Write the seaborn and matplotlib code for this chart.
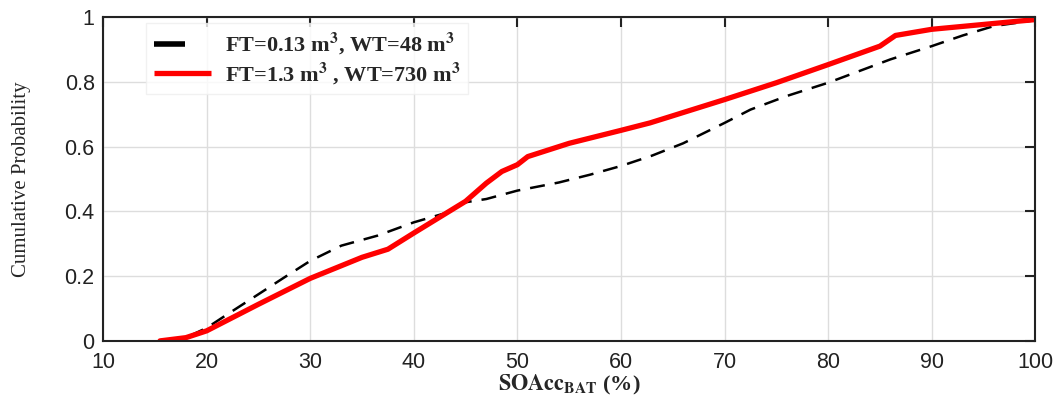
import pandas as pd
import seaborn as sns
import matplotlib.pyplot as plt

# values (SOAcc in %, cumulative probability)
soacc_small = [16, 18, 20, 22, 25, 27.5, 30, 33, 36.5, 40, 43, 45, 47, 50, 54, 57, 60, 63,
               66, 70, 72.5, 76, 80, 83, 86, 90, 93, 96, 100]
prob_small = [0.0, 0.01, 0.04, 0.082, 0.144, 0.196, 0.247, 0.294, 0.325, 0.366, 0.394, 0.428,
              0.438, 0.464, 0.489, 0.513, 0.540, 0.572, 0.61, 0.673, 0.714, 0.756, 0.797,
              0.833, 0.869, 0.91, 0.943, 0.972, 0.99]

soacc_large = [15.5, 18, 20, 25, 30, 35, 37.5, 40, 45, 47, 48.5, 50, 51, 55, 60, 62.8, 70,
               75, 80, 85, 86.5, 90, 95, 100]
prob_large = [0.0, 0.01, 0.031, 0.113, 0.193, 0.258, 0.283, 0.333, 0.431, 0.487, 0.523,
              0.544, 0.569, 0.61, 0.65, 0.673, 0.745, 0.797, 0.853, 0.91, 0.943, 0.962,
              0.977, 0.992]

label_small = r'FT=0.13 m$^{\mathbf{3}}$, WT=48 m$^{\mathbf{3}}$'
label_large = r'FT=1.3 m$^{\mathbf{3}}$ , WT=730 m$^{\mathbf{3}}$'

df = pd.concat([
    pd.DataFrame({'SOAcc': soacc_small, 'P': prob_small, 'case': label_small}),
    pd.DataFrame({'SOAcc': soacc_large, 'P': prob_large, 'case': label_large}),
])

sns.set_style('white')
plt.rcParams['mathtext.fontset'] = 'stix'

fig = plt.figure(figsize=(10.57, 3.95), dpi=100)
ax = fig.add_axes([0.0975, 0.137, 0.882, 0.82])

sns.lineplot(data=df, x='SOAcc', y='P', hue='case', style='case',
             palette={label_small: 'black', label_large: 'red'},
             dashes={label_small: (6, 4), label_large: ''},
             size='case', sizes={label_small: 1.8, label_large: 3.8},
             sort=False, ax=ax)

ax.set_xlim(10, 100)
ax.set_ylim(0, 1)
ax.set_xticks(range(10, 101, 10))
ax.set_yticks([0, 0.2, 0.4, 0.6, 0.8, 1])
ax.set_yticklabels(['0', '0.2', '0.4', '0.6', '0.8', '1'])
ax.grid(True, color='#dddddd', linewidth=1)
for s in ax.spines.values():
    s.set_color('#222222')
    s.set_linewidth(1.5)
ax.tick_params(direction='in', length=7, width=1.5, top=True, right=True,
               labelsize=15.5, colors='#222222')
ax.tick_params(axis='x', pad=8)
ax.tick_params(axis='y', pad=6)
for t in ax.get_xticklabels() + ax.get_yticklabels():
    t.set_fontfamily('Liberation Sans')

ax.set_xlabel(r'$\mathbf{SOAcc_{BAT}}$ (%)', fontsize=16, fontweight='bold',
              fontfamily='Liberation Serif', labelpad=0)
ax.set_ylabel('Cumulative Probability', fontsize=15, fontfamily='Liberation Serif',
              labelpad=24)

handles, labels = ax.get_legend_handles_labels()
leg = ax.legend(handles[:2], labels[:2], loc='upper left', bbox_to_anchor=(0.046, 0.98),
                prop={'family': 'Liberation Serif', 'weight': 'bold', 'size': 16},
                frameon=True, fancybox=False, edgecolor='#eeeeee', handlelength=2.6,
                handletextpad=0.6, borderpad=0.35, labelspacing=0.15, borderaxespad=0)
# black handle is drawn as a short solid bar in the reference
black = leg.get_lines()[0]
black.set_linestyle('-')
black.set_linewidth(4)
black.set_solid_capstyle('butt')
leg.get_lines()[1].set_solid_capstyle('butt')
xd = black.get_xdata()
yd = black.get_ydata()
black.set_data([xd[0], xd[0] + (xd[-1] - xd[0]) * 0.55], [yd[0], yd[0]])

fig.savefig('out.png', dpi=100)
